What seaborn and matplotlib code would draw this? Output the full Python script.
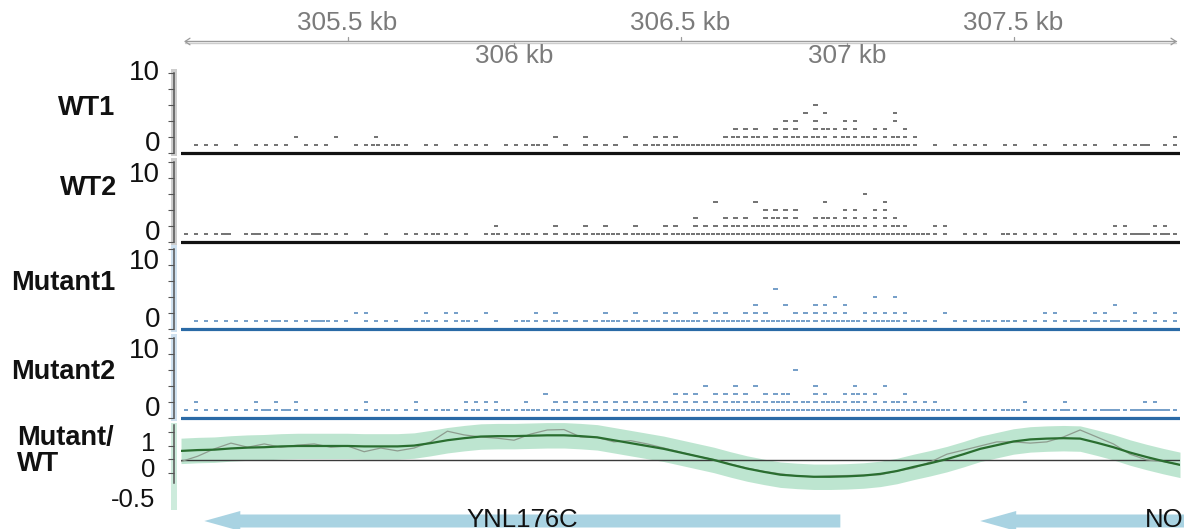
import numpy as np
import pandas as pd
import matplotlib
matplotlib.use("Agg")
import matplotlib.pyplot as plt
import seaborn as sns
from matplotlib.path import Path
from matplotlib.markers import MarkerStyle
from matplotlib.patches import Rectangle, Polygon
from matplotlib.transforms import blended_transform_factory

# ---------------------------------------------------------------- data
KB_START, KB_END = 305.0, 308.0
N_BINS = 100                      # 30 bp bins across the window
BIN_KB = (KB_END - KB_START) / N_BINS

ruler_ticks = [305.5, 306.0, 306.5, 307.0, 307.5]
ruler_labels = ["305.5 kb", "306 kb", "306.5 kb", "307 kb", "307.5 kb"]

track_names = ["WT1", "WT2", "Mutant1", "Mutant2"]

# Read pileups: one string per stacking level (level 1 = first row above the
# baseline); one character per 30 bp bin, digit = reads stacked in that bin.
wt1_levels = [
    ".111.1.111" "1.111..112" "121.11.111" "1.11121.1." "1111.11212"
    "2222222222" "2222222222" "2221.1.111" "1.11.11.11" "11.1112.11",
    ".........." ".1...1...1" ".........." ".......1.." "1...1..111"
    "....121211" "1212112121" "1211......" ".........." ".........1",
    ".........." ".........." ".........." ".........." ".........."
    ".....111.1" "11.12111.1" "1.1.......",
    ".........." ".........." ".........." ".........." ".........."
    ".........." "11.1..11.." ".1........",
    ".........." ".........." ".........." ".........." ".........."
    ".........." "..1.1....." ".1........",
    ".........." ".........." ".........." ".........." ".........."
    ".........." "...1......",
]
wt2_levels = [
    "11112.1211" "1112111.1." "1.1112111." "1211211112" "1222122212"
    "2222222222" "2222222222" "2222211.11" "1.211111.1" "1111122121",
    ".........." ".........." ".........." ".1.....1.." "1.1..1..11"
    ".111121221" "2211122211" "121..11..." ".........." "...11..11.",
    ".........." ".........." ".........." ".........." ".........."
    ".1..111.12" "11.1211111" "11........",
    ".........." ".........." ".........." ".........." ".........."
    "........11" "11....11.1" "1.........",
    ".........." ".........." ".........." ".........." ".........."
    "...1...1.." "....1....." "1.........",
    ".........." ".........." ".........." ".........." ".........."
    ".........." "........1.",
]
mut1_levels = [
    ".111111112" "1112211.11" "11.1211121" ".1.1211211" "1122121212"
    "2212222122" "2221222212" "221211.111" "2121111112" "1212111111",
    ".........." ".......11." "....1.11.." "1....1.1.." "..1..1..11"
    ".1.11.111." ".111111.11" "111...1..." "......11.." ".11..1.1.1",
    ".........." ".........." ".........." ".........." ".........."
    ".......1.." "1..11.1..." ".........." ".........." "...1......",
    ".........." ".........." ".........." ".........." ".........."
    ".........." ".....1...1" ".1........",
    ".........." ".........." ".........." ".........." ".........."
    ".........1",
]
mut2_levels = [
    "1111111121" "2111111111" "2111112112" "1121221211" "1211222222"
    "2222222222" "2222222222" "2222222111" "1122111121" "1122122221",
    ".1.....1.1" ".1......1." "...1....11" "11..1..111" "1111111111"
    "1111121212" "2121221211" "121111...." "....1...1." "......11..",
    ".........." ".........." ".........." "......1..." ".........1"
    "11.1111.11" "2..11.1211" "..1.......",
    ".........." ".........." ".........." ".........." ".........."
    "..1..1.1.." "...1...1.." "1.........",
    "",
    ".........." ".........." ".........." ".........." ".........."
    ".........." ".1........",
]

# Mutant/WT ratio sampled every 50 bp: raw ratio and its loess fit
ratio_kb = [305.00, 305.05, 305.10, 305.15, 305.20, 305.25, 305.30, 305.35,
            305.40, 305.45, 305.50, 305.55, 305.60, 305.65, 305.70, 305.75,
            305.80, 305.85, 305.90, 305.95, 306.00, 306.05, 306.10, 306.15,
            306.20, 306.25, 306.30, 306.35, 306.40, 306.45, 306.50, 306.55,
            306.60, 306.65, 306.70, 306.75, 306.80, 306.85, 306.90, 306.95,
            307.00, 307.05, 307.10, 307.15, 307.20, 307.25, 307.30, 307.35,
            307.40, 307.45, 307.50, 307.55, 307.60, 307.65, 307.70, 307.75,
            307.80, 307.85, 307.90, 307.95, 308.00]
ratio_raw = [0.28, 0.41, 0.59, 0.73, 0.63, 0.71, 0.63, 0.68, 0.71, 0.63,
             0.66, 0.52, 0.61, 0.54, 0.61, 0.76, 1.02, 0.93, 0.88, 0.85,
             0.80, 0.95, 1.05, 1.06, 0.88, 0.87, 0.76, 0.79, 0.71, 0.61,
             0.51, 0.41, 0.33, 0.22, 0.12, 0.04, -0.02, -0.07, -0.09, -0.07,
             -0.06, -0.05, -0.04, 0.05, 0.12, 0.27, 0.46, 0.56, 0.66, 0.76,
             0.76, 0.73, 0.76, 0.88, 1.05, 0.88, 0.71, 0.46, 0.32, 0.28, 0.20]
ratio_smooth = [0.54, 0.56, 0.57, 0.60, 0.62, 0.63, 0.65, 0.66, 0.66, 0.66,
                0.66, 0.65, 0.65, 0.65, 0.67, 0.73, 0.80, 0.85, 0.89, 0.90,
                0.90, 0.91, 0.92, 0.92, 0.90, 0.87, 0.80, 0.73, 0.66, 0.59,
                0.50, 0.41, 0.32, 0.21, 0.11, 0.03, -0.04, -0.07, -0.09, -0.09,
                -0.08, -0.06, -0.02, 0.05, 0.15, 0.24, 0.34, 0.46, 0.59, 0.68,
                0.77, 0.82, 0.84, 0.85, 0.84, 0.74, 0.63, 0.50, 0.39, 0.29, 0.20]
ratio_ci = 0.31
ratio_ref = 0.33
ratio_ticks = [0, 1 / 3, 2 / 3, 1]

gene_names = ["YNL176C", "NOP13"]
gene_left = [305.07, 307.40]      # both on the minus strand (arrow tip on the left)
gene_right = [306.98, 308.64]

# ---------------------------------------------------------------- figure
W, H = 1184, 529
sns.set_theme(style="white")
plt.rcParams["font.family"] = ["Liberation Sans", "DejaVu Sans"]
fig = plt.figure(figsize=(W / 100, H / 100), dpi=100)

X0, X1 = 181, 1180
PX_PER_KB = (X1 - X0) / (KB_END - KB_START)
AXIS_GREY = "#555555"


def add_px_axes(left, top, right, bottom):
    return fig.add_axes([left / W, 1 - bottom / H, (right - left) / W, (bottom - top) / H])


def fig_text(xpx, ypx, s, **kw):
    fig.text(xpx / W, 1 - ypx / H, s, **kw)


def expand(levels):
    kb, lvl = [], []
    for level, row in enumerate(levels, start=1):
        row = row.ljust(N_BINS, ".")[:N_BINS]
        for i, ch in enumerate(row):
            if ch.isdigit():
                n = int(ch)
                for k in range(n):
                    kb.append(KB_START + (i + (k + 0.5) / n) * BIN_KB)
                    lvl.append(level)
    return pd.DataFrame({"kb": kb, "level": lvl})


def side_bar(ax, colour):
    ax.add_patch(Rectangle(((171 - X0) / (X1 - X0), 0), 6 / (X1 - X0), 1,
                           transform=ax.transAxes, clip_on=False,
                           facecolor=colour, edgecolor="none", zorder=0))


def style_left_axis(ax, lo, hi, ticks):
    for s in ("top", "right", "bottom"):
        ax.spines[s].set_visible(False)
    sp = ax.spines["left"]
    sp.set_visible(True)
    sp.set_position(("outward", 5))
    sp.set_bounds(lo, hi)
    sp.set_color(AXIS_GREY)
    sp.set_linewidth(1.1)
    ax.set_xticks([])
    ax.set_yticks(ticks)
    ax.set_yticklabels([])
    ax.tick_params(axis="y", left=True, direction="out", length=4.3,
                   width=0.8, color=AXIS_GREY)
    ax.set_xlabel("")
    ax.set_ylabel("")
    ax.grid(False)


# ---- coordinate ruler
ax_r = add_px_axes(X0, 0, X1, 68)
ax_r.set_xlim(KB_START, KB_END)
ax_r.set_ylim(68, 0)
ax_r.axis("off")
ends = [KB_START + 4 / PX_PER_KB, KB_END - 4 / PX_PER_KB]
ax_r.plot(ends, [40.5, 40.5], color="#9b9b9b", lw=1.0)
ax_r.plot(ends, [42.7, 42.7], color="#cdcdcd", lw=1.0)
head = 5 / PX_PER_KB
ax_r.plot([ends[0] + head, ends[0], ends[0] + head], [38.2, 41.5, 44.8], color="#9b9b9b", lw=0.9)
ax_r.plot([ends[1] - head, ends[1], ends[1] - head], [38.2, 41.5, 44.8], color="#9b9b9b", lw=0.9)
for i, (t, lab) in enumerate(zip(ruler_ticks, ruler_labels)):
    above = i % 2 == 0
    ax_r.plot([t, t], [37, 40.5] if above else [42.7, 46], color="#9b9b9b", lw=0.9)
    ax_r.text(t, 23 if above else 56, lab, ha="center", va="center",
              fontsize=18.8, color="#7b7b7b")

# ---- read pileup tracks
dot_path = Path([(-0.8, -0.55), (0.8, -0.55), (0.8, 0.55), (-0.8, 0.55), (-0.8, -0.55)],
                [Path.MOVETO, Path.LINETO, Path.LINETO, Path.LINETO, Path.CLOSEPOLY])
dot_marker = MarkerStyle(dot_path)

LEVEL_PX = 8
baselines = [153, 242, 329, 418]
track_levels = [wt1_levels, wt2_levels, mut1_levels, mut2_levels]
dot_colours = ["#1a1a1a", "#1a1a1a", "#2466a8", "#2466a8"]
dot_alpha = [0.6, 0.6, 0.62, 0.62]
base_colours = ["#121212", "#121212", "#2a6aa6", "#2a6aa6"]
bar_colours = ["#cdcdcd", "#cdcdcd", "#cfe1f0", "#cfe1f0"]
name_px = [(115, 108), (117, 188), (115, 283), (115, 372)]
top_label_va = ["center", "top", "top", "top"]
lab_x = (160 - X0) / (X1 - X0)

for name, levels, base, dcol, dal, bcol, barcol, (nx, ny), tva in zip(
        track_names, track_levels, baselines, dot_colours, dot_alpha, base_colours,
        bar_colours, name_px, top_label_va):
    ax = add_px_axes(X0, base - 10.5 * LEVEL_PX, X1, base + 0.4 * LEVEL_PX)
    ax.set_facecolor("none")
    df = expand(levels)
    ax.axhline(0, color=bcol, lw=2.3, zorder=2)
    sns.scatterplot(data=df, x="kb", y="level", ax=ax, marker=dot_marker, s=9.5,
                    color=dcol, alpha=dal, linewidth=0, edgecolor="none",
                    legend=False, zorder=3)
    ax.set_xlim(KB_START, KB_END)
    ax.set_ylim(-0.4, 10.5)
    style_left_axis(ax, 0, 10, range(0, 11, 2))
    side_bar(ax, barcol)
    tr = blended_transform_factory(ax.transAxes, ax.transData)
    ax.text(lab_x, 10, "10", transform=tr, ha="right", va=tva, fontsize=20, color="#111")
    ax.text(lab_x, 0.3, "0", transform=tr, ha="right", va="baseline", fontsize=20, color="#111")
    fig_text(nx, ny, name, ha="right", va="center", fontsize=19.5,
             fontweight="bold", color="#111")

# ---- Mutant/WT ratio track
ax = add_px_axes(X0, 423, X1, 510)
ax.set_facecolor("none")
kb = np.array(ratio_kb)
sm = np.array(ratio_smooth)
ax.fill_between(kb, sm - ratio_ci, sm + ratio_ci, color="#b6e3cb", alpha=0.9, lw=0, zorder=1)
ax.axhline(ratio_ref, color="#3a3a3a", lw=1.0, zorder=2)
sns.lineplot(x=ratio_kb, y=ratio_raw, ax=ax, color="#8e9c8f", lw=0.9, zorder=3)
sns.lineplot(x=ratio_kb, y=ratio_smooth, ax=ax, color="#2a6e30", lw=1.6, zorder=4)
ax.set_xlim(KB_START, KB_END)
ax.set_ylim(-0.90, 1.22)
style_left_axis(ax, -0.24, 1.17, ratio_ticks)
side_bar(ax, "#cdebdc")
tr = blended_transform_factory(ax.transAxes, ax.transData)
lab_x_r = (155 - X0) / (X1 - X0)
ax.text(lab_x_r, 1.0, "1", transform=tr, ha="right", va="top", fontsize=18.5, color="#111")
ax.text(lab_x_r, 0.07, "0", transform=tr, ha="right", va="center", fontsize=18.5, color="#111")
ax.text(lab_x_r, -0.66, "-0.5", transform=tr, ha="right", va="center", fontsize=18.5, color="#111")
fig_text(17, 451, "Mutant/\nWT", ha="left", va="center", fontsize=19.5,
         fontweight="bold", color="#111", linespacing=1.0)

# ---- gene annotation track
G_RIGHT = 1184
ax_g = add_px_axes(X0, 498, G_RIGHT, 545)
ax_g.set_xlim(KB_START, KB_START + (G_RIGHT - X0) / PX_PER_KB)
ax_g.set_ylim(545, 498)
ax_g.axis("off")
head_kb = 36 / PX_PER_KB
for name, left, right in zip(gene_names, gene_left, gene_right):
    poly = [(left, 521), (left + head_kb, 511), (left + head_kb, 514.5),
            (right, 514.5), (right, 527.5), (left + head_kb, 527.5), (left + head_kb, 531)]
    ax_g.add_patch(Polygon(poly, closed=True, facecolor="#a9d3e2", edgecolor="none"))
    ax_g.text((left + right) / 2, 508, name, ha="center", va="top", fontsize=18.5,
              color="#111", clip_on=True)

fig.savefig("out.png", dpi=100, facecolor="white")
